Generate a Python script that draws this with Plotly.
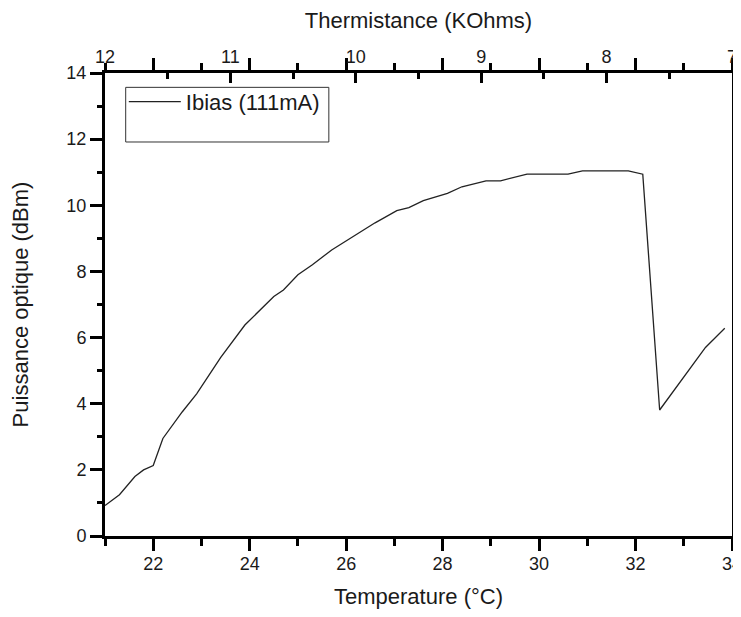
import plotly.graph_objects as go

# Data
temperature = [21.0, 21.3, 21.62, 21.8, 22.0, 22.2, 22.6, 22.9, 23.4, 23.9, 24.5, 24.7,
               25.0, 25.3, 25.7, 26.15, 26.6, 27.05, 27.3, 27.6, 28.1, 28.4, 28.9, 29.2,
               29.75, 30.6, 30.9, 31.85, 32.15, 32.5, 32.85, 33.45, 33.85]
puissance = [0.92, 1.25, 1.8, 2.0, 2.13, 2.95, 3.75, 4.3, 5.4, 6.38, 7.24, 7.44,
             7.9, 8.2, 8.65, 9.05, 9.47, 9.84, 9.93, 10.14, 10.36, 10.56, 10.74, 10.74,
             10.94, 10.94, 11.04, 11.04, 10.94, 3.81, 4.5, 5.7, 6.28]
thermistance_range = [12, 7]
series_name = "Ibias (111mA)"

FONT = "Liberation Sans, Arial, sans-serif"
TXT = "#1a1a1a"

fig = go.Figure()
fig.add_trace(go.Scatter(x=temperature, y=puissance, mode="lines", name=series_name,
                         line=dict(color="#222222", width=1.3)))
# helper trace to activate the top thermistance axis
fig.add_trace(go.Scatter(x=thermistance_range, y=[None, None], xaxis="x2", mode="lines",
                         showlegend=False, hoverinfo="skip"))

# page body has an 8px default margin; figure sized so the page does not overflow the window
fig.update_layout(
    width=733, height=601,
    margin=dict(l=97, r=9, t=65, b=73),
    paper_bgcolor="white", plot_bgcolor="white",
    font=dict(family=FONT, color=TXT, size=18),
    showlegend=True,
    legend=dict(x=0.03, y=0.983, xanchor="left", yanchor="top", itemwidth=52,
                bgcolor="rgba(0,0,0,0)", borderwidth=0,
                font=dict(size=22, family=FONT, color=TXT)),
    xaxis=dict(
        range=[21, 34], tick0=0, dtick=2, showgrid=False, zeroline=False, automargin=False,
        showline=True, linecolor="black", linewidth=3, mirror="ticks",
        ticks="outside", ticklen=12, tickwidth=3, tickcolor="black",
        minor=dict(dtick=1, tick0=0, ticks="outside", ticklen=7, tickwidth=3, tickcolor="black"),
        ticklabelstandoff=-3, ticklabeloverflow="allow",
        tickfont=dict(size=18), title=dict(text="Temperature (°C)", font=dict(size=22), standoff=19),
    ),
    xaxis2=dict(
        range=thermistance_range, overlaying="x", side="top", anchor="y", automargin=False,
        dtick=1, tick0=0, showgrid=False, zeroline=False, showline=False,
        ticks="inside", ticklen=10, tickwidth=3, tickcolor="black",
        minor=dict(dtick=0.5, tick0=0, ticks="inside", ticklen=6, tickwidth=3, tickcolor="black"),
        ticklabelstandoff=5, ticklabeloverflow="allow",
        tickfont=dict(size=18), title=dict(text="Thermistance (KOhms)", font=dict(size=22), standoff=12),
    ),
    yaxis=dict(
        range=[0, 14], tick0=0, dtick=2, showgrid=False, zeroline=False, automargin=False,
        showline=True, linecolor="black", linewidth=3, mirror=True,
        ticks="outside", ticklen=12, tickwidth=3, tickcolor="black",
        minor=dict(dtick=1, tick0=0, ticks="outside", ticklen=5, tickwidth=3, tickcolor="black"),
        tickfont=dict(size=18), title=dict(text="Puissance optique (dBm)", font=dict(size=22), standoff=33),
    ),
    shapes=[dict(type="rect", xref="paper", yref="paper", x0=0.033, x1=0.357, y0=0.851, y1=0.969,
                 line=dict(color="#333333", width=1), fillcolor="rgba(0,0,0,0)", layer="above")],
)

fig.write_html("out.html")
